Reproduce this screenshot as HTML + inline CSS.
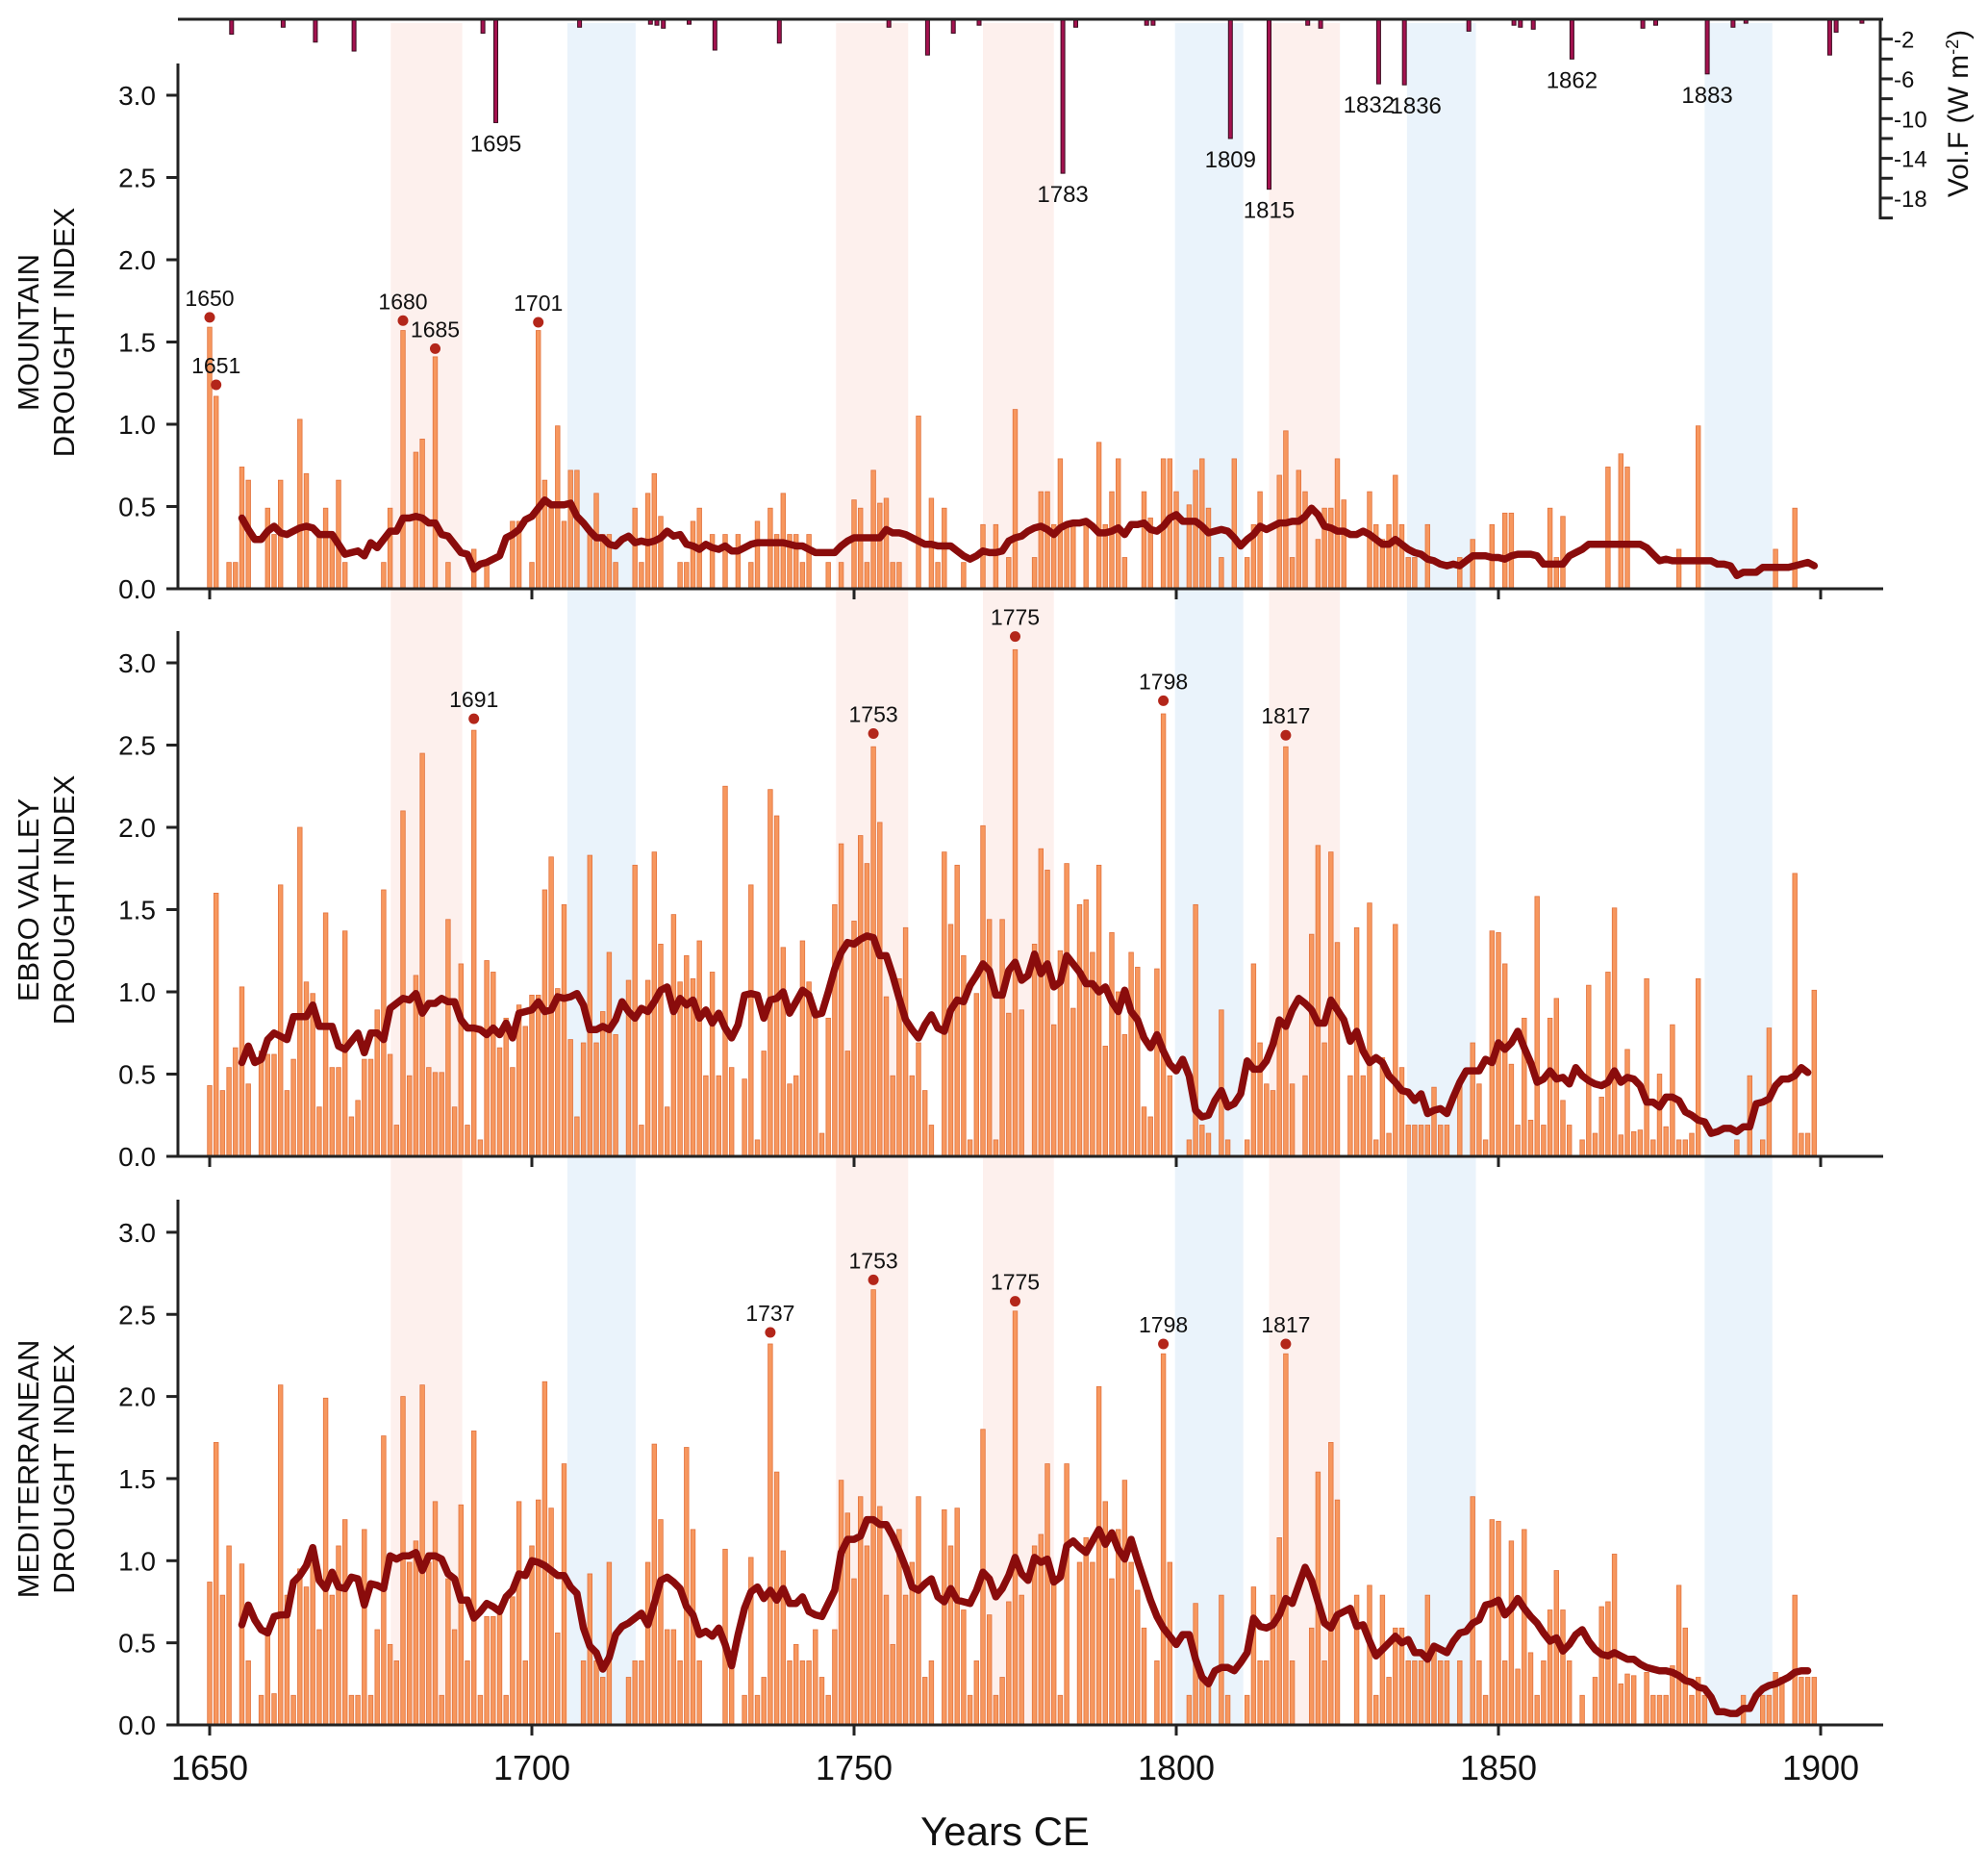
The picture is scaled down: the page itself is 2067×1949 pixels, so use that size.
<!DOCTYPE html>
<html><head><meta charset="utf-8"><title>Drought indices</title>
<style>
html,body{margin:0;padding:0;background:#fff;}
svg{display:block;font-family:"Liberation Sans Narrow","Liberation Sans",sans-serif;}
</style></head>
<body>
<svg id="chart" width="2067" height="1949" viewBox="0 0 2067 1949" xmlns="http://www.w3.org/2000/svg">
<g id="bands"></g><g id="volc"></g><g id="panels"></g>
</svg>
<script>
const startYear = 1650;
const mountainVals = [1.59,1.17,0,.16,.16,.74,.66,0,0,.49,
.33,.66,0,0,1.03,.70,0,.33,.49,.33,
.66,.16,0,0,0,0,0,.16,.49,0,
1.57,0,.83,.91,0,1.41,0,.16,0,0,
0,.24,0,.16,0,0,0,.41,.41,0,
.16,1.57,.66,.49,.99,.41,.72,.72,0,.33,
.58,.33,.33,.16,0,0,.49,.16,.58,.70,
.44,0,0,.16,.16,.41,.49,0,.33,0,
.33,0,.33,0,.16,.41,0,.49,.33,.58,
.33,.33,.16,.33,0,0,.16,0,.16,0,
.54,.49,.16,.72,.52,.55,.16,.16,0,0,
1.05,0,.55,.16,.49,0,0,.16,0,0,
.39,0,.39,0,.19,1.09,0,0,.19,.59,
.59,.39,.79,.39,.39,0,.39,0,.89,.39,
.59,.79,.19,0,0,.59,.43,0,.79,.79,
.59,0,.51,.72,.79,.49,0,.19,0,.79,
0,.19,.39,.59,0,0,.69,.96,.19,.72,
.59,0,.30,.49,.49,.79,.54,0,0,0,
.59,.39,.30,.39,.69,.39,.19,.19,0,.39,
0,0,0,0,.19,0,.30,0,0,.39,
0,.46,.46,0,0,0,0,0,.49,.19,
.44,0,0,0,0,0,0,.74,0,.82,
.74,0,0,0,0,0,0,0,.24,0,
0,.99,0,0,0,0,0,0,0,0,
0,0,0,.24,0,0,.49,0,0,0];
const ebroVals = [.43,1.60,.40,.54,.66,1.03,.44,0,.64,.62,
.62,1.65,.40,.59,2.0,1.06,.99,.30,1.48,.54,
.54,1.37,.24,.34,.59,.59,.89,1.62,.62,.19,
2.10,.49,1.10,2.45,.54,.51,.51,1.44,.30,1.17,
.19,2.59,.10,1.19,1.12,.66,.84,.54,.92,.79,
.98,.98,1.62,1.82,1.02,1.53,.71,.24,.69,1.83,
.69,.88,1.24,.74,0,1.07,1.77,.19,1.07,1.85,
1.29,.30,1.47,1.06,1.22,1.08,1.31,.49,1.12,.49,
2.25,.54,0,.47,1.65,.10,.64,2.23,2.07,1.27,
.44,.49,1.31,1.06,.84,.14,.84,1.53,1.90,.64,
1.43,1.95,1.78,2.49,2.03,.97,.49,1.08,1.39,.49,
.69,.40,.19,0,1.85,1.41,1.77,1.22,.10,.99,
2.01,1.44,.10,1.44,.87,3.08,.89,0,1.29,1.87,
1.74,.80,1.25,1.78,.90,1.53,1.56,1.24,1.77,.67,
1.36,1.0,.74,1.24,1.15,.30,.24,1.14,2.69,.49,
0,0,.10,1.53,.19,.14,0,.89,.10,0,
0,.10,1.17,.69,.44,.40,.81,2.49,.44,0,
.49,1.35,1.89,.69,1.85,1.30,0,.49,1.39,.49,
1.54,.10,.60,.14,1.41,.54,.19,.19,.19,.19,
.42,.19,.19,0,.44,0,.69,.44,.10,1.37,
1.36,1.17,.56,.19,.84,.22,1.58,.19,.84,.96,
.34,.19,0,.10,1.04,.14,.36,1.12,1.51,.13,
.65,.15,.16,1.08,.10,.50,.18,.80,.10,.10,
.14,1.08,0,0,0,0,0,.10,0,.49,
0,.10,.78,0,0,0,1.72,.14,.14,1.01];
const medVals = [.87,1.72,.79,1.09,0,.98,.39,0,.18,.58,
.19,2.07,.79,.18,.95,.84,.99,.58,1.99,.79,
1.09,1.25,.18,.18,1.19,.18,.58,1.76,.49,.39,
2.0,.99,1.12,2.07,.99,1.36,.18,.89,.58,1.34,
.39,1.79,.18,.66,.66,.67,.18,.78,1.36,.39,
1.09,1.37,2.09,1.32,.56,1.59,0,0,.39,.92,
.39,.29,.99,0,0,.29,.39,.39,.99,1.71,
1.25,.58,.58,.39,1.69,1.19,.39,0,0,0,
1.07,.39,0,.18,1.02,.18,.29,2.32,1.54,1.06,
.39,.49,.39,.39,.58,.29,.18,.58,1.49,1.29,
.89,1.39,1.09,2.65,1.33,.79,.49,1.19,.79,.99,
1.39,.29,.39,0,1.31,1.09,1.32,.70,.18,.39,
1.80,.67,.18,.29,.75,2.52,.79,0,1.09,1.16,
1.59,.87,.18,1.59,0,.99,1.14,.99,2.06,1.36,
.89,1.19,1.49,.99,.82,.59,0,.39,2.26,.99,
0,0,.18,.74,.29,.23,0,.79,.18,0,
0,.18,.84,.39,.39,.79,1.14,2.26,.39,0,
0,.59,1.54,.39,1.72,1.37,0,0,.79,0,
.85,.18,.79,.29,.59,.59,.39,.39,.39,.79,
.48,.39,.39,0,.39,0,1.39,.39,.18,1.25,
1.24,.39,1.12,.34,1.19,.44,.18,.39,.70,.94,
.70,.39,0,.18,0,.29,.72,.75,1.04,.25,
.31,.30,0,.32,.18,.18,.18,.36,.85,.59,
.18,.29,.18,0,0,0,0,0,.18,0,
0,.18,.18,.32,.29,0,.79,.29,.29,.29];
const lineStart = 1655;
const mountainLine = [.43,.36,.30,.30,.35,.38,.34,.33,.35,.37,.38,.37,.33,.33,.33,.27,.21,.22,.23,.20,.28,.25,.30,.35,.35,.43,.43,.44,.43,.40,.40,.33,.32,.27,.22,.21,.12,.15,.16,.18,.20,.31,.33,.36,.42,.44,.49,.54,.51,.51,.51,.52,.44,.40,.35,.31,.31,.27,.26,.30,.32,.28,.29,.28,.29,.31,.35,.32,.33,.27,.26,.24,.27,.25,.24,.26,.23,.23,.25,.27,.28,.28,.28,.28,.28,.27,.26,.26,.24,.22,.22,.22,.22,.26,.29,.31,.31,.31,.31,.31,.36,.34,.34,.33,.31,.29,.27,.27,.26,.26,.26,.23,.20,.18,.20,.23,.22,.22,.23,.29,.31,.32,.35,.37,.38,.36,.33,.37,.39,.40,.40,.41,.38,.34,.34,.35,.37,.33,.39,.39,.40,.36,.35,.38,.43,.45,.41,.41,.41,.38,.34,.35,.36,.35,.31,.26,.30,.33,.38,.36,.38,.40,.40,.41,.41,.44,.49,.45,.38,.37,.35,.35,.33,.33,.35,.33,.30,.27,.27,.30,.27,.24,.22,.21,.18,.17,.15,.14,.15,.14,.17,.20,.20,.20,.19,.19,.18,.20,.21,.21,.21,.20,.15,.15,.15,.15,.20,.22,.24,.27,.27,.27,.27,.27,.27,.27,.27,.27,.25,.21,.17,.18,.17,.17,.17,.17,.17,.17,.17,.15,.15,.14,.08,.10,.10,.10,.13,.13,.13,.13,.13,.14,.15,.16,.14];
const ebroLine = [.57,.67,.57,.59,.71,.75,.73,.71,.85,.85,.85,.92,.79,.79,.79,.67,.65,.70,.75,.63,.75,.75,.71,.90,.93,.96,.95,.99,.87,.93,.93,.96,.94,.94,.83,.78,.78,.77,.74,.78,.74,.81,.72,.87,.88,.89,.94,.88,.89,.97,.96,.97,.99,.92,.77,.77,.79,.77,.83,.94,.88,.84,.90,.88,.94,1.01,1.03,.88,.96,.92,.95,.84,.89,.81,.87,.78,.72,.80,.98,.99,.98,.84,.95,.96,1.0,.87,.94,1.01,.98,.86,.87,1.0,1.14,1.24,1.30,1.29,1.32,1.34,1.33,1.22,1.22,1.10,.96,.83,.77,.72,.80,.86,.78,.76,.89,.95,.94,1.04,1.10,1.17,1.13,.98,.98,1.13,1.18,1.07,1.10,1.23,1.11,1.17,1.03,1.06,1.22,1.17,1.12,1.05,1.05,1.0,1.03,.94,.88,1.01,.88,.83,.72,.66,.74,.64,.56,.52,.59,.49,.28,.24,.25,.34,.40,.30,.32,.38,.58,.53,.53,.58,.68,.83,.79,.89,.96,.93,.89,.81,.81,.95,.89,.83,.70,.76,.64,.57,.60,.57,.49,.45,.40,.39,.34,.38,.26,.28,.29,.26,.36,.45,.52,.52,.52,.59,.57,.69,.65,.69,.76,.66,.57,.45,.47,.52,.47,.48,.44,.54,.49,.46,.44,.43,.45,.52,.45,.48,.47,.43,.33,.33,.30,.36,.36,.34,.27,.25,.22,.21,.14,.15,.17,.17,.15,.18,.18,.32,.33,.35,.43,.47,.47,.49,.54,.51];
const medLine = [.61,.73,.64,.58,.56,.66,.67,.67,.87,.91,.97,1.08,.88,.83,.93,.84,.83,.90,.89,.73,.86,.85,.83,1.03,1.01,1.03,1.03,1.05,.94,1.03,1.03,1.01,.92,.89,.76,.76,.65,.69,.74,.72,.69,.78,.82,.92,.91,1.0,.99,.97,.94,.91,.91,.84,.80,.59,.48,.44,.34,.41,.55,.60,.62,.65,.68,.61,.74,.88,.90,.87,.83,.72,.67,.55,.57,.54,.59,.49,.36,.55,.71,.81,.84,.77,.82,.76,.83,.74,.74,.78,.69,.67,.66,.74,.82,1.05,1.13,1.13,1.15,1.25,1.25,1.22,1.22,1.15,1.06,.96,.84,.82,.86,.89,.78,.75,.83,.76,.75,.74,.82,.93,.89,.78,.83,.91,1.02,.92,.88,1.02,.99,1.01,.87,.90,1.09,1.12,1.08,1.05,1.12,1.19,1.10,1.17,1.07,1.01,1.13,1.0,.88,.76,.66,.59,.54,.49,.55,.55,.40,.29,.25,.33,.35,.35,.33,.38,.44,.65,.60,.59,.61,.67,.77,.74,.85,.96,.88,.75,.62,.59,.67,.69,.71,.60,.61,.51,.42,.46,.50,.54,.50,.52,.44,.44,.40,.48,.46,.44,.51,.56,.57,.62,.64,.73,.74,.76,.67,.71,.77,.71,.66,.62,.56,.51,.53,.45,.49,.55,.58,.51,.46,.43,.42,.44,.42,.40,.40,.37,.35,.34,.33,.33,.32,.30,.27,.26,.23,.22,.17,.08,.08,.07,.07,.10,.10,.18,.22,.24,.25,.27,.29,.32,.33,.33];
const mountainPeaks = [1650,1651,1680,1685,1701];
const mountainPeakVals = [1.65,1.24,1.63,1.46,1.62];
const ebroPeaks = [1691,1753,1775,1798,1817];
const ebroPeakVals = [2.66,2.57,3.16,2.77,2.56];
const medPeaks = [1737,1753,1775,1798,1817];
const medPeakVals = [2.39,2.71,2.58,2.32,2.32];
const volcYears = [1654,1662,1667,1673,1693,1695,1708,1719,1720,1721,1725,1729,1739,1756,1762,1766,1770,1783,1785,1796,1797,1809,1815,1821,1823,1832,1836,1846,1853,1854,1856,1862,1873,1875,1883,1887,1889,1902,1903,1907];
const volcVals = [-1.5,-0.8,-2.3,-3.2,-1.4,-10.4,-0.8,-0.5,-0.6,-0.9,-0.5,-3.1,-2.4,-0.8,-3.6,-1.4,-0.6,-15.5,-0.8,-0.6,-0.6,-12.0,-17.1,-0.6,-0.9,-6.5,-6.6,-1.2,-0.6,-0.8,-1.0,-4.0,-0.9,-0.6,-5.5,-0.8,-0.4,-3.6,-1.3,-0.4];
const volcLabels = [1695,1783,1809,1815,1832,1836,1862,1883];
const warmBands = [[1678.1,1689.2],[1747.2,1758.4],[1770,1781],[1814.4,1825.4]];
const coolBands = [[1705.5,1716.1],[1799.8,1810.4],[1835.8,1846.5],[1882,1892.5]];
const yTicks = [0,0.5,1,1.5,2,2.5,3];
const yTickLabels = ["0.0","0.5","1.0","1.5","2.0","2.5","3.0"];
const xTicks = [1650,1700,1750,1800,1850,1900];
const volcTicks = [-2,-4,-6,-8,-10,-12,-14,-16,-18,-20];
const volcTickLabels = [-2,-6,-10,-14,-18];

const NS = "http://www.w3.org/2000/svg";
function el(tag, attrs, parent){ const e=document.createElementNS(NS,tag); for(const k in attrs) e.setAttribute(k,attrs[k]); parent.appendChild(e); return e; }
function X(year){ return 218 + (year-1650)*6.7; }
const bandsG = document.getElementById('bands');
warmBands.forEach(b=>{ const r=el('rect',{x:X(b[0]),y:24,width:X(b[1])-X(b[0]),height:1769,fill:'#fdf0ed'},bandsG);

 });
coolBands.forEach(b=>{ const r=el('rect',{x:X(b[0]),y:24,width:X(b[1])-X(b[0]),height:1769,fill:'#eaf3fb'},bandsG);

 });

const vg = document.getElementById('volc');
function VY(v){ return 20 - v*10.33; }
volcYears.forEach((yr,i)=>{
  const b = el('rect',{x:X(yr)-6,y:20,width:4,height:VY(volcVals[i])-20,fill:'#a3124f',stroke:'#3a0a1e','stroke-width':1},vg);
  
  
  if(volcLabels.indexOf(yr)>=0){
    let dx=0; if(yr===1832) dx=-10; if(yr===1836) dx=12;
    const t = el('text',{x:X(yr)-4+dx,y:VY(volcVals[i])+30,'font-size':24,'text-anchor':'middle',fill:'#111'},vg);
    t.textContent = yr;
    
    
  }
});
const vtop = el('line',{x1:185,y1:20,x2:1958,y2:20,stroke:'#222','stroke-width':3},vg);


const vax = el('line',{x1:1955,y1:19,x2:1955,y2:228,stroke:'#222','stroke-width':3},vg);


volcTicks.forEach(v=>{ const t=el('line',{x1:1955,y1:VY(v),x2:1968,y2:VY(v),stroke:'#222','stroke-width':3},vg);

 });
volcTickLabels.forEach(v=>{ const t=el('text',{x:1969,y:VY(v)+9,'font-size':24,fill:'#111'},vg); t.textContent=v;

 });
const vt = el('text',{x:0,y:0,'font-size':30,'text-anchor':'middle',fill:'#111',transform:'translate(2046,118) rotate(-90)'},vg);
vt.innerHTML = 'Vol.F (W m<tspan dy="-10" font-size="18">-2</tspan><tspan dy="10">)</tspan>';



const panels = [
 {name:'mountain', base:612, per:171, top:66, vals:mountainVals, line:mountainLine, peaks:mountainPeaks, peakVals:mountainPeakVals, t1:'MOUNTAIN', xl:false},
 {name:'ebro', base:1202, per:171, top:656, vals:ebroVals, line:ebroLine, peaks:ebroPeaks, peakVals:ebroPeakVals, t1:'EBRO VALLEY', xl:false},
 {name:'mediterranean', base:1793, per:170.7, top:1247, vals:medVals, line:medLine, peaks:medPeaks, peakVals:medPeakVals, t1:'MEDITERRANEAN', xl:true}
];
const pg = document.getElementById('panels');
panels.forEach(p=>{
  const g = el('g',{},pg);
  
  
  const Y = v => p.base - v*p.per;
  p.vals.forEach((v,i)=>{ if(v<=0) return;
    const r = el('rect',{x:X(startYear+i)-2.3,y:Y(v),width:4.6,height:p.base-Y(v),fill:'#f7975e',stroke:'#e2733e','stroke-width':0.8},g);
    
    
  });
  const pts = p.line.map((v,i)=>X(lineStart+i).toFixed(1)+','+Y(v).toFixed(1)).join(' ');
  const pl = el('polyline',{points:pts,fill:'none',stroke:'#8a0c0c','stroke-width':7.5,'stroke-linejoin':'round','stroke-linecap':'round'},g);
  
  
  p.peaks.forEach((yr,i)=>{
    const c = el('circle',{cx:X(yr),cy:Y(p.peakVals[i]),r:5.5,fill:'#b3261a'},g);
    
    
    const t = el('text',{x:X(yr),y:Y(p.peakVals[i])-12,'font-size':23,'text-anchor':'middle',fill:'#111'},g);
    t.textContent = yr;
    
    
  });
  const ya = el('line',{x1:185,y1:p.top,x2:185,y2:p.base+1.5,stroke:'#222','stroke-width':3},g);
  
  
  const xa = el('line',{x1:183.5,y1:p.base,x2:1958,y2:p.base,stroke:'#222','stroke-width':3},g);
  
  
  yTicks.forEach((v,i)=>{
    const tk = el('line',{x1:173,y1:Y(v),x2:185,y2:Y(v),stroke:'#222','stroke-width':3},g);
    
    
    const tl = el('text',{x:162,y:Y(v)+10,'font-size':28,'text-anchor':'end',fill:'#111'},g);
    tl.textContent = yTickLabels[i];
    
    
  });
  xTicks.forEach(yr=>{
    const tk = el('line',{x1:X(yr),y1:p.base,x2:X(yr),y2:p.base+11,stroke:'#222','stroke-width':3},g);
    
    
    if(p.xl){
      const tl = el('text',{x:X(yr),y:p.base+57,'font-size':36,'text-anchor':'middle',fill:'#111'},g);
      tl.textContent = yr;
      
      
    }
  });
  const cy = (Y(3)+p.base)/2 - 10;
  const t1 = el('text',{x:0,y:0,'font-size':31,'text-anchor':'middle',fill:'#111',transform:'translate(40,'+cy+') rotate(-90)'},g);
  t1.textContent = p.t1;
  
  
  const t2 = el('text',{x:0,y:0,'font-size':31,'text-anchor':'middle',fill:'#111',transform:'translate(77,'+cy+') rotate(-90)'},g);
  t2.textContent = 'DROUGHT INDEX';
  
  
});
const xt = el('text',{x:1045,y:1918,'font-size':42,'text-anchor':'middle',fill:'#111'},pg);
xt.textContent = 'Years CE';


</script>
</body></html>
